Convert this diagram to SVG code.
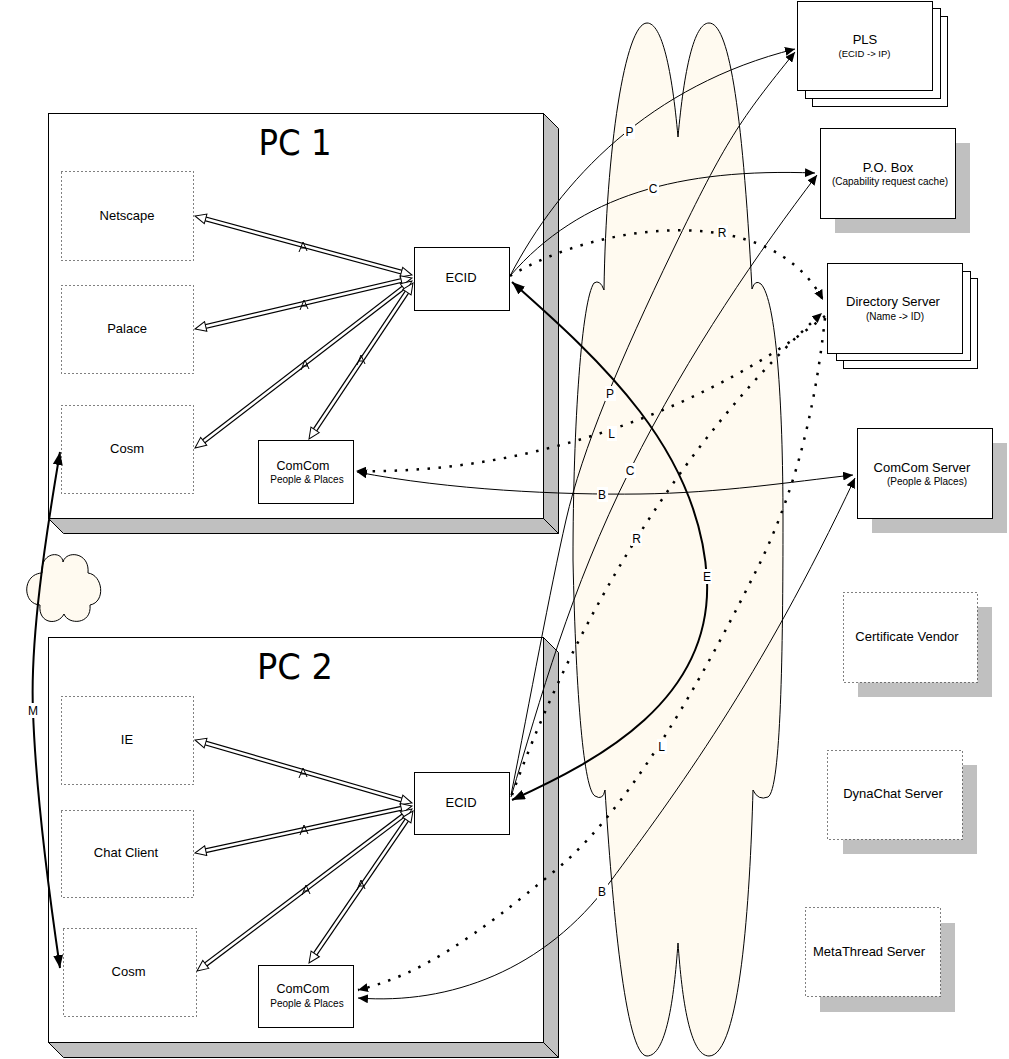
<svg xmlns="http://www.w3.org/2000/svg" width="1009" height="1059" viewBox="0 0 1009 1059">
<defs>
<style>
.t{font-family:"Liberation Sans",Arial,sans-serif;fill:#000}
.ttl{font-family:"DejaVu Sans","Liberation Sans",sans-serif;fill:#000}
.box{fill:#fff;stroke:#000;stroke-width:1}
.dotb{fill:#fff;stroke:#000;stroke-width:1;stroke-dasharray:1 3}
.sh{fill:#c0c0c0}
.side{fill:#c0c0c0;stroke:#000;stroke-width:1}
.cloud{fill:#fffaf0;stroke:#000;stroke-width:1}
.thin{fill:none;stroke:#000;stroke-width:1}
.dotted{fill:none;stroke:#000;stroke-width:2.5;stroke-dasharray:2.5 8.5}
.thick{fill:none;stroke:#000;stroke-width:2}
.dblo{stroke:#000;stroke-width:5}
.dbli{stroke:#fff;stroke-width:2.6}
.mk{fill:none;stroke:#000;stroke-width:1}
.lb{fill:#fff}
</style>
<marker id="a" markerUnits="userSpaceOnUse" viewBox="0 0 10 9" markerWidth="10" markerHeight="9" refX="10" refY="4.5" orient="auto-start-reverse"><path d="M0,0 L10,4.5 L0,9 z" fill="#000"/></marker>
<marker id="ab" markerUnits="userSpaceOnUse" viewBox="0 0 13 10" markerWidth="13" markerHeight="10" refX="13" refY="5" orient="auto-start-reverse"><path d="M0,0 L13,5 L0,10 z" fill="#000"/></marker>
<marker id="h" markerUnits="userSpaceOnUse" viewBox="-1 -1 13 12" markerWidth="13" markerHeight="12" refX="11" refY="5" orient="auto-start-reverse"><path d="M0,0 L11,5 L0,10 z" fill="#fff" stroke="#000" stroke-width="1"/></marker>
</defs>
<rect width="1009" height="1059" fill="#fff"/>

<g id="internet-cloud">
<path class="cloud" d="M604,290 C606,150 625,23 647,23 C662,23 672,70 678,137 C684,70 694,23 709,23 C728,23 742,100 752,289 Q755,279 761,284 C776,300 783,400 783,520 C783,650 781,790 768,797 Q758,801 753,790 C750,900 740,1056 709,1056 C690,1056 682,1000 678,943 C674,1000 666,1056 647,1056 C625,1056 612,900 605,790 Q603,801 595,796 C584,790 576,700 573,560 C573,420 582,300 594,283 Q600,279 604,290 Z"/>
</g>

<g id="small-cloud">
<path class="cloud" d="M42,573 C40,552 62,550 63,562 C66,550 90,552 88,573 C103,575 106,602 90,605 C92,625 68,625 64,614 C58,626 38,624 40,605 C22,604 22,574 42,573 Z"/>
</g>

<g id="pc1">
<polygon class="side" points="543.5,113.5 558.5,128.5 558.5,533.5 543.5,518.5"/>
<polygon class="side" points="48.5,518.5 63.5,533.5 558.5,533.5 543.5,518.5"/>
<rect class="box" x="48.5" y="113.5" width="495" height="405"/>
<text class="ttl" x="295" y="155" font-size="36" text-anchor="middle" textLength="73" lengthAdjust="spacingAndGlyphs">PC 1</text>
</g>
<g id="pc1-netscape"><rect class="dotb" x="61.5" y="171.5" width="132" height="89"/><text class="t" x="127" y="220" font-size="13" text-anchor="middle">Netscape</text></g>
<g id="pc1-palace"><rect class="dotb" x="61.5" y="285.5" width="132" height="88"/><text class="t" x="127" y="333" font-size="13" text-anchor="middle">Palace</text></g>
<g id="pc1-cosm"><rect class="dotb" x="61.5" y="405.5" width="132" height="88"/><text class="t" x="127" y="453" font-size="13" text-anchor="middle">Cosm</text></g>
<g id="pc1-ecid"><rect class="box" x="414.5" y="247.5" width="95" height="63"/><text class="t" x="461" y="282" font-size="13" text-anchor="middle">ECID</text></g>
<g id="pc1-comcom"><rect class="box" x="258.5" y="440.5" width="95" height="63"/><text class="t" x="303" y="469.5" font-size="12.5" text-anchor="middle">ComCom</text><text class="t" x="307" y="482.5" font-size="10" text-anchor="middle">People &amp; Places</text></g>

<g id="pc2">
<polygon class="side" points="543.5,637.5 558.5,652.5 558.5,1057.5 543.5,1042.5"/>
<polygon class="side" points="48.5,1042.5 63.5,1057.5 558.5,1057.5 543.5,1042.5"/>
<rect class="box" x="48.5" y="637.5" width="495" height="405"/>
<text class="ttl" x="295" y="679" font-size="36" text-anchor="middle" textLength="76" lengthAdjust="spacingAndGlyphs">PC 2</text>
</g>
<g id="pc2-ie"><rect class="dotb" x="61.5" y="696.5" width="132" height="88"/><text class="t" x="127" y="743.5" font-size="13" text-anchor="middle">IE</text></g>
<g id="pc2-chat"><rect class="dotb" x="61.5" y="810.5" width="132" height="87"/><text class="t" x="126" y="857" font-size="13" text-anchor="middle">Chat Client</text></g>
<g id="pc2-cosm"><rect class="dotb" x="63.5" y="928.5" width="133" height="88"/><text class="t" x="128.5" y="976" font-size="13" text-anchor="middle">Cosm</text></g>
<g id="pc2-ecid"><rect class="box" x="414.5" y="772.5" width="95" height="62"/><text class="t" x="461" y="806.5" font-size="13" text-anchor="middle">ECID</text></g>
<g id="pc2-comcom"><rect class="box" x="258.5" y="965.5" width="95" height="62"/><text class="t" x="303" y="993" font-size="12.5" text-anchor="middle">ComCom</text><text class="t" x="307" y="1007" font-size="10" text-anchor="middle">People &amp; Places</text></g>

<g id="pls">
<rect class="box" x="812.5" y="16.5" width="135" height="90"/>
<rect class="box" x="805.5" y="8.5" width="135" height="90"/>
<rect class="box" x="797.5" y="1.5" width="135" height="89"/>
<text class="t" x="865" y="44" font-size="13" text-anchor="middle">PLS</text>
<text class="t" x="864.5" y="57" font-size="9.5" text-anchor="middle">(ECID -&gt; IP)</text>
</g>
<g id="pobox">
<rect class="sh" x="835" y="143" width="135" height="90"/>
<rect class="box" x="820.5" y="128.5" width="135" height="90"/>
<text class="t" x="888" y="171.5" font-size="13" text-anchor="middle">P.O. Box</text>
<text class="t" x="890" y="184.5" font-size="10" text-anchor="middle">(Capability request cache)</text>
</g>
<g id="directory">
<rect class="box" x="843.5" y="278.5" width="134" height="90"/>
<rect class="box" x="836.5" y="271.5" width="134" height="89"/>
<rect class="box" x="827.5" y="263.5" width="135" height="90"/>
<text class="t" x="893" y="306" font-size="13" text-anchor="middle">Directory Server</text>
<text class="t" x="895" y="319.5" font-size="10" text-anchor="middle">(Name -&gt; ID)</text>
</g>
<g id="comcom-server">
<rect class="sh" x="872" y="443" width="135" height="90"/>
<rect class="box" x="857.5" y="428.5" width="135" height="90"/>
<text class="t" x="922" y="471.5" font-size="13" text-anchor="middle">ComCom Server</text>
<text class="t" x="927" y="484.5" font-size="10" text-anchor="middle">(People &amp; Places)</text>
</g>
<g id="cert-vendor">
<rect class="sh" x="858" y="607" width="134" height="90"/>
<rect class="dotb" x="843.5" y="592.5" width="134" height="90"/>
<text class="t" x="907" y="641" font-size="13" text-anchor="middle">Certificate Vendor</text>
</g>
<g id="dynachat">
<rect class="sh" x="843" y="765" width="134" height="89"/>
<rect class="dotb" x="827.5" y="750.5" width="135" height="89"/>
<text class="t" x="893" y="798" font-size="13" text-anchor="middle">DynaChat Server</text>
</g>
<g id="metathread">
<rect class="sh" x="820" y="923" width="135" height="89"/>
<rect class="dotb" x="805.5" y="907.5" width="135" height="89"/>
<text class="t" x="869" y="956" font-size="13" text-anchor="middle">MetaThread Server</text>
</g>

<g id="connectors">
<!-- internal double-line links PC1 -->
<line class="dblo" x1="200.8" y1="217.6" x2="406.2" y2="273.4"/>
<line class="dbli" x1="195" y1="216" x2="412" y2="275" marker-start="url(#h)" marker-end="url(#h)"/>
<line class="dblo" x1="200.8" y1="327.6" x2="406.2" y2="279.4"/>
<line class="dbli" x1="195" y1="329" x2="412" y2="278" marker-start="url(#h)" marker-end="url(#h)"/>
<line class="dblo" x1="199.8" y1="444.3" x2="407.2" y2="284.7"/>
<line class="dbli" x1="195" y1="448" x2="412" y2="281" marker-start="url(#h)" marker-end="url(#h)"/>
<line class="dblo" x1="312.3" y1="434" x2="409.7" y2="288"/>
<line class="dbli" x1="309" y1="439" x2="413" y2="283" marker-start="url(#h)" marker-end="url(#h)"/>
<path class="mk" d="M299,252 L303,242 L307,251 M301,248 L306,248"/>
<path class="mk" d="M300,310 L304,300 L308,309 M302,306 L307,306"/>
<path class="mk" d="M301,370 L305,360 L309,369 M303,366 L308,366"/>
<path class="mk" d="M357,365 L361,355 L365,364 M359,361 L364,361"/>
<!-- internal double-line links PC2 -->
<line class="dblo" x1="200.8" y1="741.7" x2="406.2" y2="801.3"/>
<line class="dbli" x1="195" y1="740" x2="412" y2="803" marker-start="url(#h)" marker-end="url(#h)"/>
<line class="dblo" x1="200.9" y1="851.7" x2="406.1" y2="807.3"/>
<line class="dbli" x1="195" y1="853" x2="412" y2="806" marker-start="url(#h)" marker-end="url(#h)"/>
<line class="dblo" x1="201.8" y1="967.4" x2="407.2" y2="812.6"/>
<line class="dbli" x1="197" y1="971" x2="412" y2="809" marker-start="url(#h)" marker-end="url(#h)"/>
<line class="dblo" x1="312.4" y1="958" x2="409.6" y2="816"/>
<line class="dbli" x1="309" y1="963" x2="413" y2="811" marker-start="url(#h)" marker-end="url(#h)"/>
<path class="mk" d="M299,778 L303,768 L307,777 M301,774 L306,774"/>
<path class="mk" d="M300,835 L304,825 L308,834 M302,831 L307,831"/>
<path class="mk" d="M302,895 L306,885 L310,894 M304,891 L309,891"/>
<path class="mk" d="M357,890 L361,880 L365,889 M359,886 L364,886"/>

<!-- network links -->
<path class="thin" d="M510,276 C560,180 650,85 795,49" marker-end="url(#a)"/>
<path class="thin" d="M510,276 C580,195 680,168 815,173" marker-end="url(#a)"/>
<path class="thin" d="M511,795 C530,700 550,590 566,520 S620,360 673,250 S740,120 795,52" marker-end="url(#a)"/>
<path class="thin" d="M511,797 C540,700 570,590 630,470 S760,250 817,175" marker-end="url(#a)"/>
<path class="dotted" d="M510,276 C600,222 770,200 823,300" marker-end="url(#a)"/>
<path class="dotted" d="M512,795 C560,660 660,460 822,313" marker-end="url(#a)"/>
<path class="dotted" d="M825,316 C720,400 540,475 356,471" marker-end="url(#a)"/>
<path class="dotted" d="M825,318 C814,420 792,500 755,573 S640,800 557,869 S420,975 358,990" marker-end="url(#a)"/>
<path class="thin" d="M357,472 C450,490 560,495 640,494 S790,482 853,475" marker-start="url(#a)" marker-end="url(#a)"/>
<path class="thin" d="M358,998 C450,1005 545,970 610,882 S760,680 855,478" marker-start="url(#a)" marker-end="url(#a)"/>
<path class="thick" d="M512,282 C600,360 700,450 707,580 C712,700 600,760 512,800" marker-start="url(#ab)" marker-end="url(#ab)"/>
<path class="thick" d="M60,452 C45,540 30,640 33,711 C36,800 50,900 60,968" marker-start="url(#ab)" marker-end="url(#ab)"/>

<!-- labels -->
<g>
<rect class="lb" x="624" y="124" width="11" height="15"/><text class="t" x="629.5" y="136" font-size="12" text-anchor="middle">P</text>
<rect class="lb" x="648" y="181" width="11" height="15"/><text class="t" x="653" y="193" font-size="12" text-anchor="middle">C</text>
<rect class="lb" x="717" y="225" width="11" height="15"/><text class="t" x="722" y="237" font-size="12" text-anchor="middle">R</text>
<rect class="lb" x="605" y="386" width="11" height="15"/><text class="t" x="610" y="398" font-size="12" text-anchor="middle">P</text>
<rect class="lb" x="607" y="426" width="10" height="15"/><text class="t" x="611.5" y="438" font-size="12" text-anchor="middle">L</text>
<rect class="lb" x="625" y="463" width="11" height="15"/><text class="t" x="630" y="475" font-size="12" text-anchor="middle">C</text>
<rect class="lb" x="597" y="487" width="11" height="15"/><text class="t" x="602" y="499" font-size="12" text-anchor="middle">B</text>
<rect class="lb" x="631" y="531" width="11" height="15"/><text class="t" x="636.5" y="543" font-size="12" text-anchor="middle">R</text>
<rect class="lb" x="702" y="569" width="10" height="15"/><text class="t" x="707" y="581" font-size="12" text-anchor="middle">E</text>
<rect class="lb" x="657" y="739" width="10" height="15"/><text class="t" x="661.5" y="751" font-size="12" text-anchor="middle">L</text>
<rect class="lb" x="597" y="884" width="11" height="15"/><text class="t" x="602" y="896" font-size="12" text-anchor="middle">B</text>
<rect class="lb" x="27" y="703" width="12" height="15"/><text class="t" x="33" y="715" font-size="12" text-anchor="middle">M</text>
</g>
</g>
</svg>
